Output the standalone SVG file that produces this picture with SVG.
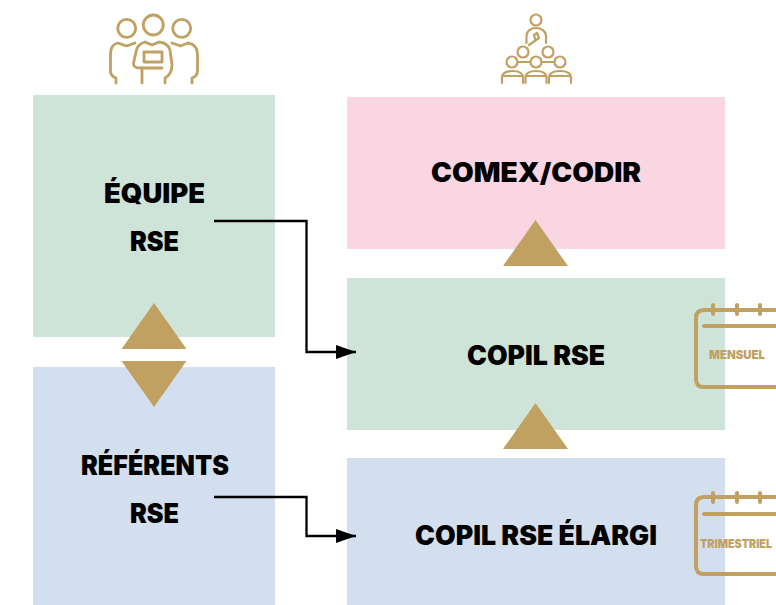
<svg xmlns="http://www.w3.org/2000/svg" width="776" height="605" viewBox="0 0 776 605">
<style>
.t{font-family:"Inter","Liberation Sans",sans-serif;font-weight:900;font-size:26.500px;fill:#000}
.s{font-family:"Inter","Liberation Sans",sans-serif;font-weight:900;fill:#c1a161;font-size:12px}
.i{fill:none;stroke:#c1a161;stroke-width:2.800;stroke-linecap:round;stroke-linejoin:round}
.c{fill:none;stroke:#c1a161;stroke-width:4;stroke-linecap:round;stroke-linejoin:round}
.g{fill:#c1a161}
.l{fill:none;stroke:#000;stroke-width:2.300}
</style>
<defs>
<marker id="a" markerUnits="userSpaceOnUse" markerWidth="20" markerHeight="14" refX="20" refY="7" orient="auto"><path d="M0 0L20 7L0 14Z" fill="#000"/></marker>
</defs>
<rect width="776" height="605" fill="#fff"/>
<g id="equipe"><rect x="33" y="95" width="242" height="242" fill="#cee4d9"/><text class="t" x="104" y="202.500" textLength="101" lengthAdjust="spacingAndGlyphs">ÉQUIPE</text><text class="t" x="130" y="250.500" textLength="49" lengthAdjust="spacingAndGlyphs">RSE</text></g>
<g id="referents"><rect x="33" y="367" width="242" height="238" fill="#d3dfef"/><text class="t" x="81" y="474.500" textLength="148" lengthAdjust="spacingAndGlyphs">RÉFÉRENTS</text><text class="t" x="130" y="522.500" textLength="49" lengthAdjust="spacingAndGlyphs">RSE</text></g>
<g id="comex"><rect x="347" y="97" width="378" height="152" fill="#f9d6e1"/><text class="t" x="431" y="181.500" textLength="210" lengthAdjust="spacingAndGlyphs">COMEX/CODIR</text></g>
<g id="copil"><rect x="347" y="278" width="378" height="152" fill="#cee4d9"/><text class="t" x="467" y="364.500" textLength="138" lengthAdjust="spacingAndGlyphs">COPIL RSE</text></g>
<g id="copil-elargi"><rect x="347" y="458" width="378" height="147" fill="#d3dfef"/><text class="t" x="415" y="544.500" textLength="242" lengthAdjust="spacingAndGlyphs">COPIL RSE ÉLARGI</text></g>
<g id="triangles">
<path class="g" d="M535.500 220L568 266H503Z"/>
<path class="g" d="M535.500 403L568 449H503Z"/>
<path class="g" d="M154 303L186.500 349H121.500Z"/>
<path class="g" d="M154 407L186.500 361H121.500Z"/>
</g>
<g id="connectors">
<path class="l" marker-end="url(#a)" d="M214 221H306.500V352H356"/>
<path class="l" marker-end="url(#a)" d="M214 497H306.500V536H356"/>
</g>
<g id="icon-team" class="i">
<circle cx="126.700" cy="28.300" r="9"/><circle cx="153.300" cy="25" r="10"/><circle cx="181.700" cy="28.300" r="9"/>
<path d="M135 43L126.500 46L118 43C113 44 110.500 48 110.500 54V71Q110.500 76 116 78V83"/>
<path d="M172 43L180.500 46L188 43C194 44 197.500 48 197.500 54V71Q197.500 76 192 78V83"/>
<path d="M162 68H140Q133 68 133.500 63L136.500 50Q138 44 145 42L152 45L159 42Q168 43 170 50L172 65Q172 74 165 78V83"/>
<rect x="144" y="52" width="18" height="10"/>
<path d="M142 68V83"/>
</g>
<g id="icon-audience" class="i" style="stroke-width:2.200">
<circle cx="536" cy="20" r="5.500"/>
<path d="M526.500 43V36C526.500 31 531 28 536 28C541 28 546 31 546 36V43"/>
<path d="M529 45L539 38L537 33L534 35L535 39"/>
<circle cx="523" cy="52" r="5.500"/><circle cx="548" cy="52" r="5.500"/>
<circle cx="512" cy="62" r="5.500"/><circle cx="536" cy="62" r="5.500"/><circle cx="560" cy="62" r="5.500"/>
<path d="M517.500 62H530.500M541.500 62H554.500"/>
<path d="M502 83V78Q502 71 512.500 71Q523 71 523 78V83M503 76H522"/>
<path d="M525.500 83V78Q525.500 71 536 71Q546.500 71 546.500 78V83M526.500 76H545.500"/>
<path d="M549 83V78Q549 71 560 71Q571 71 571 78V83M550 76H570"/>
</g>
<g id="calendar-mensuel">
<path class="c" d="M776 310H704Q696 310 696 318V379Q696 387 704 387H776"/>
<path class="c" d="M704 326H776M713 305V314M737 305V314M760 305V314"/>
<text class="s" x="709" y="359" textLength="56" lengthAdjust="spacingAndGlyphs">MENSUEL</text>
</g>
<g id="calendar-trimestriel">
<path class="c" d="M776 497H704Q696 497 696 505V566Q696 574 704 574H776"/>
<path class="c" d="M704 514H776M713 493V502M737 493V502M760 493V502"/>
<text class="s" x="700" y="548" textLength="72" lengthAdjust="spacingAndGlyphs">TRIMESTRIEL</text>
</g>
</svg>
